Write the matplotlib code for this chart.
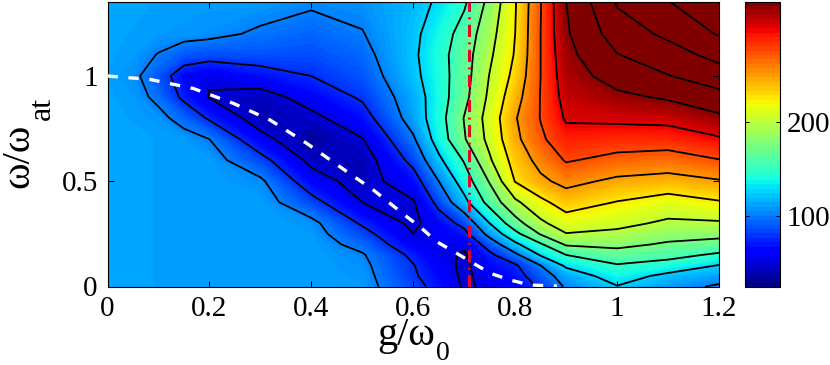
import numpy as np
import matplotlib
matplotlib.use("Agg")
import matplotlib.pyplot as plt
from matplotlib.colors import Normalize
from matplotlib.cm import ScalarMappable

plt.rcParams['font.family'] = ['Liberation Serif', 'DejaVu Serif']

g_values = [0, .05, .1, .15, .2, .3, .4, .5, .6, .65, .7, .75, .8, .85, .9, 1.0, 1.1, 1.2]
omega_values = [0, .05, .1, .15, .2, .25, .3, .4, .5, .6, .7, .8, .9, 1.0, 1.1, 1.2, 1.354]

# One list per g column, bottom to top in omega
col_000 = [111,111,111,111,111,111,111,111,111,111,111,111,111,110,111,111,111]
col_005 = [111,111,111,111,111,111,111,111,111,111,111,110,108,105,108,110,111]
col_010 = [110,110,110,110,110,110,110,110,110,110,110,106,95,87,99,108,110]
col_015 = [110,110,110,110,110,110,110,110,110,110,108,92,70,62,88,107,109]
col_020 = [110,110,110,110,110,110,110,110,110,109,100,72,49,52,85,105,109]
col_030 = [110,110,110,110,110,110,110,110,104,83,58,38,40,65,86,97,109]
col_040 = [110,110,110,110,110,108,106,83,61,44,30,44,60,75,85,92,103]
col_050 = [108,107,105,102,93,83,72,50,40,38,49,65,78,87,93,99,106]
col_060 = [83,78,76,70,58,50,45,48,64,82,97,110,113,119,121,120,117]
col_065 = [67,63,58,55,54,57,62,82,100,120,136,140,138,139,141,137,128]
col_070 = [47,46,46,48,53,68,82,118,137,152,173,176,168,165,164,160,146]
col_075 = [54,58,63,70,86,108,125,159,177,197,207,210,205,201,196,191,182]
col_080 = [62,66,72,95,120,143,165,195,226,235,244,248,240,232,227,225,223]
col_085 = [78,88,100,127,147,177,195,219,245,258,271,276,276,275,275,275,274]
col_090 = [103,111,129,150,178,199,213,236,257,277,290,303,309,314,318,322,325]
col_100 = [124,136,148,165,181,195,206,224,245,268,287,305,320,335,349,362,378]
col_110 = [108,119,140,158,172,184,196,214,241,264,287,307,328,349,364,380,399]
col_120 = [97,110,124,146,166,182,197,223,248,274,297,320,342,363,383,402,430]

dispersion_g = [0, .083, .168, .247, .319, .391, .456, .522, .587, .613, .646, .685, .751, .790, .829, .882]
dispersion_w = [1.0, .984, .941, .870, .791, .680, .569, .458, .332, .284, .213, .158, .063, .031, .007, .002]
critical_g = [.709, .709]
critical_w = [0, 1.354]

contour_levels = list(range(50, 425, 25))
color_min, color_max = 25, 328
x_ticks = [0, .2, .4, .6, .8, 1.0, 1.2]
x_tick_labels = ['0', '0.2', '0.4', '0.6', '0.8', '1', '1.2']
y_ticks = [0, .5, 1]
y_tick_labels = ['0', '0.5', '1']
cbar_ticks = [100, 200]

Z = np.array([col_000, col_005, col_010, col_015, col_020, col_030, col_040, col_050, col_060,
              col_065, col_070, col_075, col_080, col_085, col_090, col_100, col_110, col_120]).T

W, H = 830, 365
fig = plt.figure(figsize=(W / 100, H / 100), dpi=100)
ax = fig.add_axes([107.5 / W, 1 - 286.5 / H, (719 - 107.5) / W, 285 / H])
cax = fig.add_axes([745 / W, 1 - 287 / H, 34.5 / W, 285.5 / H])

norm = Normalize(color_min, color_max)
jet_smooth = plt.get_cmap('jet', 256)
fill_levels = np.linspace(color_min, color_max, 129)
ax.contourf(g_values, omega_values, Z, levels=fill_levels, cmap=jet_smooth, norm=norm,
            extend='both', antialiased=False)
ax.contour(g_values, omega_values, Z, levels=contour_levels, colors='black', linewidths=1.3)
ax.plot(critical_g, critical_w, color='#e2062c', lw=2.2, linestyle=(0, (4, 1.8, .6, 1.8)), zorder=4)
ax.plot(dispersion_g, dispersion_w, color='white', lw=2.4, linestyle=(0, (3.1, 3.2)), zorder=5)

ax.set_xlim(0, 1.2)
ax.set_ylim(0, 1.354)
ax.set_xticks(x_ticks, x_tick_labels)
ax.set_yticks(y_ticks, y_tick_labels)
ax.tick_params(direction='in', top=True, right=True, length=4, width=0.7, labelsize=21, pad=7)
for s in ax.spines.values():
    s.set_linewidth(0.8)
ax.set_axisbelow(False)

sm = ScalarMappable(norm=norm, cmap=plt.get_cmap('jet', 64))
cb = fig.colorbar(sm, cax=cax)
cb.set_ticks(cbar_ticks)
cax.tick_params(direction='in', left=True, right=True, length=3, width=0.7, labelsize=21, pad=5)
cb.outline.set_linewidth(0.8)

def px_text(x, y, s, size, rotation=0):
    fig.text(x / W, 1 - y / H, s, fontsize=size, rotation=rotation, rotation_mode='anchor',
             ha='left', va='baseline')

px_text(377, 345, 'g/\u03c9', 29)
px_text(436, 360, '0', 20)
px_text(28, 188, '\u03c9/\u03c9', 29, rotation=90)
px_text(50, 120, 'at', 23, rotation=90)

fig.savefig('out.png', dpi=100)
